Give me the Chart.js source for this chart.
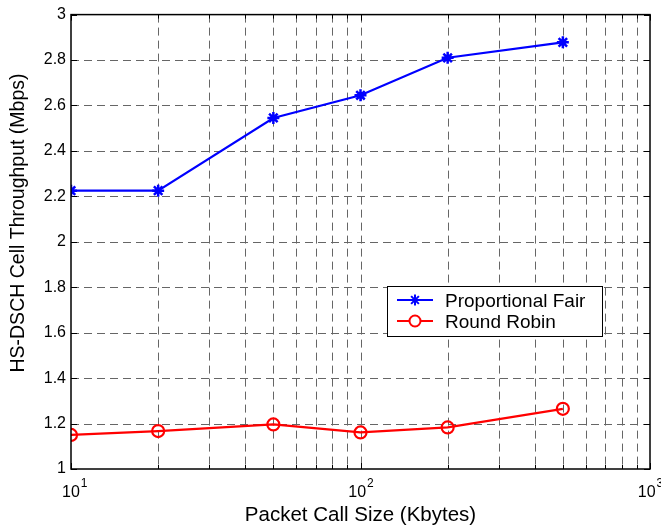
<!DOCTYPE html>
<html>
<head>
<meta charset="utf-8">
<script src="https://cdn.jsdelivr.net/npm/chart.js@4.4.1/dist/chart.umd.min.js"></script>
<style>
  html, body { margin: 0; padding: 0; background: #fff; }
  #wrap { width: 661px; height: 531px; position: relative; }
</style>
</head>
<body>
<div id="wrap"><canvas id="chart" width="661" height="531"></canvas></div>
<script>
const packetSizes = [10, 20, 50, 100, 200, 500];
const proportionalFair = [2.225, 2.225, 2.545, 2.645, 2.81, 2.878];
const roundRobin = [1.15, 1.167, 1.196, 1.161, 1.183, 1.265];
const xMajorTicks = [10, 100, 1000];
const xMajorExponents = ["1", "2", "3"];
const yTicks = [1, 1.2, 1.4, 1.6, 1.8, 2, 2.2, 2.4, 2.6, 2.8, 3];
const yTitle = "HS-DSCH Cell Throughput (Mbps)";

const FONT = "'Liberation Sans', Arial, sans-serif";

// minor log positions (20..90, 200..900) plus decades
const xGridValues = [];
for (let d = 10; d < 1000; d *= 10) {
  for (let m = 1; m < 10; m++) xGridValues.push(d * m);
}
xGridValues.push(1000);

const matlabPlugin = {
  id: "matlab",
  beforeDatasetsDraw(chart) {
    const { ctx, chartArea: a, scales: { x, y } } = chart;
    ctx.save();
    ctx.strokeStyle = "#666";
    ctx.lineWidth = 1;
    ctx.setLineDash([8, 5]);
    xGridValues.forEach(v => {
      if (v === 10 || v === 1000) return;
      const px = Math.round(x.getPixelForValue(v)) + 0.5;
      ctx.beginPath(); ctx.moveTo(px, a.top); ctx.lineTo(px, a.bottom); ctx.stroke();
    });
    yTicks.forEach(v => {
      if (v === 1 || v === 3) return;
      const py = Math.round(y.getPixelForValue(v)) + 0.5;
      ctx.beginPath(); ctx.moveTo(a.left, py); ctx.lineTo(a.right, py); ctx.stroke();
    });
    ctx.setLineDash([]);
    // inner tick marks on all sides
    ctx.strokeStyle = "#000";
    xGridValues.forEach(v => {
      const px = Math.round(x.getPixelForValue(v)) + 0.5;
      const len = xMajorTicks.includes(v) ? 6 : 4;
      ctx.beginPath(); ctx.moveTo(px, a.bottom); ctx.lineTo(px, a.bottom - len); ctx.stroke();
      ctx.beginPath(); ctx.moveTo(px, a.top); ctx.lineTo(px, a.top + len); ctx.stroke();
    });
    yTicks.forEach(v => {
      const py = Math.round(y.getPixelForValue(v)) + 0.5;
      ctx.beginPath(); ctx.moveTo(a.left, py); ctx.lineTo(a.left + 6, py); ctx.stroke();
      ctx.beginPath(); ctx.moveTo(a.right, py); ctx.lineTo(a.right - 6, py); ctx.stroke();
    });
    ctx.restore();
  },
  afterDraw(chart) {
    const { ctx, chartArea: a, scales: { x } } = chart;
    ctx.save();
    // frame
    ctx.strokeStyle = "#000";
    ctx.lineWidth = 1.5;
    ctx.strokeRect(a.left, a.top, a.right - a.left, a.bottom - a.top);

    // y title (sits a bit above the plot centre, as in the original)
    ctx.save();
    ctx.translate(19, 223);
    ctx.rotate(-Math.PI / 2);
    ctx.fillStyle = "#000";
    ctx.font = "19.5px " + FONT;
    ctx.textAlign = "center";
    ctx.textBaseline = "middle";
    ctx.fillText(yTitle, 0, 0);
    ctx.restore();

    // x tick labels 10^n
    ctx.fillStyle = "#000";
    ctx.textBaseline = "alphabetic";
    xMajorTicks.forEach((v, i) => {
      const px = x.getPixelForValue(v);
      ctx.font = "16px " + FONT;
      const wBase = ctx.measureText("10").width;
      ctx.font = "12px " + FONT;
      const wExp = ctx.measureText(xMajorExponents[i]).width;
      let left = px - (wBase + wExp) / 2;
      if (i === 0) left = px - 9;
      ctx.font = "16px " + FONT;
      ctx.textAlign = "left";
      ctx.fillText("10", left, a.bottom + 28);
      ctx.font = "12px " + FONT;
      ctx.fillText(xMajorExponents[i], left + wBase + 1, a.bottom + 18);
    });

    // legend box
    const lx = 387, ly = 286, lw = 215, lh = 50;
    ctx.fillStyle = "#fff";
    ctx.fillRect(lx, ly, lw, lh);
    ctx.strokeStyle = "#000";
    ctx.lineWidth = 1;
    ctx.strokeRect(lx + 0.5, ly + 0.5, lw, lh);
    chart.data.datasets.forEach((ds, i) => {
      const cy = ly + 14 + i * 21;
      ctx.strokeStyle = ds.borderColor;
      ctx.lineWidth = 2;
      ctx.beginPath(); ctx.moveTo(lx + 10, cy); ctx.lineTo(lx + 46, cy); ctx.stroke();
      ctx.fillStyle = "#fff";
      Chart.helpers.drawPoint(ctx, {
        pointStyle: ds.pointStyle, radius: ds.pointRadius - 0.5, borderWidth: 2
      }, lx + 28, cy);
      ctx.fillStyle = "#000";
      ctx.font = "19px " + FONT;
      ctx.textAlign = "left";
      ctx.textBaseline = "alphabetic";
      ctx.fillText(ds.label, lx + 58, cy + 7);
    });
    ctx.restore();
  }
};

new Chart(document.getElementById("chart"), {
  type: "line",
  data: {
    labels: packetSizes,
    datasets: [
      {
        label: "Proportional Fair",
        data: packetSizes.map((s, i) => ({ x: s, y: proportionalFair[i] })),
        borderColor: "#0000ff",
        backgroundColor: "#0000ff",
        borderWidth: 2.2,
        pointStyle: "star",
        pointRadius: 6,
        pointBorderWidth: 2.5,
        pointBorderColor: "#0000ff",
        tension: 0
      },
      {
        label: "Round Robin",
        data: packetSizes.map((s, i) => ({ x: s, y: roundRobin[i] })),
        borderColor: "#ff0000",
        backgroundColor: "rgba(0,0,0,0)",
        borderWidth: 2.2,
        pointStyle: "circle",
        pointRadius: 6,
        pointBorderWidth: 2.2,
        pointBorderColor: "#ff0000",
        tension: 0
      }
    ]
  },
  options: {
    responsive: false,
    animation: false,
    layout: { padding: { top: 14, right: 11, left: 0, bottom: 3 } },
    plugins: { legend: { display: false }, tooltip: { enabled: false } },
    scales: {
      x: {
        type: "logarithmic",
        min: 10,
        max: 1000,
        grid: { display: false, drawTicks: false },
        border: { display: false },
        ticks: { display: false },
        title: {
          display: true,
          text: "Packet Call Size (Kbytes)",
          color: "#000",
          font: { family: FONT, size: 20.5 },
          padding: { top: 0, bottom: 0 }
        },
        afterFit(scale) { scale.height = 59; }
      },
      y: {
        min: 1,
        max: 3,
        afterBuildTicks(scale) { scale.ticks = yTicks.map(v => ({ value: v })); },
        grid: { display: false, drawTicks: false },
        border: { display: false },
        ticks: {
          color: "#000",
          font: { family: FONT, size: 16 },
          padding: 5,
          callback: v => String(v)
        },
        afterFit(scale) { scale.width = 71; }
      }
    }
  },
  plugins: [matlabPlugin]
});
</script>
</body>
</html>
